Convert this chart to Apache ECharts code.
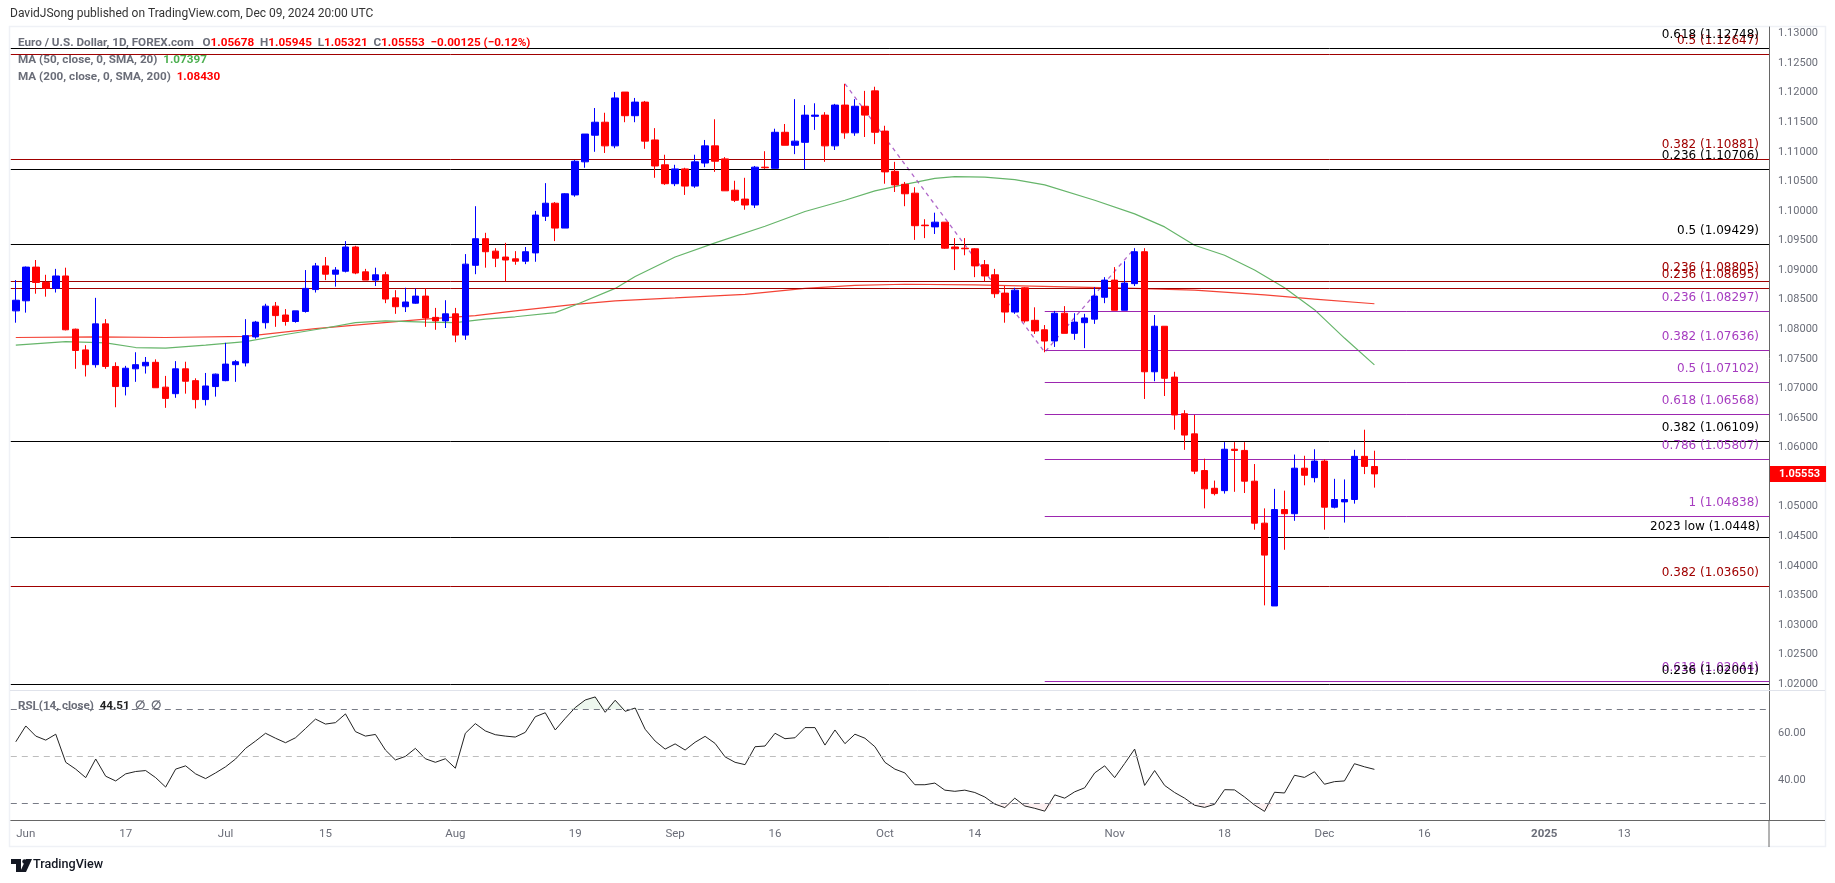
<!DOCTYPE html>
<html lang="en">
<head>
    <meta charset="UTF-8">
    <title>EUR/USD daily</title>
    <script src="https://cdn.jsdelivr.net/npm/echarts@6/dist/echarts.min.js"></script>
    <style>
        html, body { margin: 0; padding: 0; background: #fff; }
    </style>
</head>
<body>
<div id="main" style="width:1835px;height:883px;"></div>
<script type="text/javascript">
    // daily bars, May 31 2024 to Dec 09 2024
    var opens = [
        1.0831,1.0848,1.0905,1.0879,1.0869,1.0890,1.0800,1.0765,1.0740,1.0809,
        1.0737,1.0703,1.0733,1.0738,1.0744,1.0702,1.0691,1.0733,1.0713,1.0681,
        1.0703,1.0713,1.0740,1.0743,1.0787,1.0811,1.0839,1.0824,1.0813,1.0830,
        1.0867,1.0907,1.0893,1.0898,1.0939,1.0897,1.0883,1.0892,1.0853,1.0838,
        1.0844,1.0856,1.0820,1.0814,1.0826,1.0790,1.0908,1.0953,1.0932,1.0922,
        1.0919,1.0915,1.0929,1.0991,1.1013,1.0971,1.1027,1.1083,1.1128,1.1150,
        1.1110,1.1201,1.1161,1.1184,1.1120,1.1078,1.1046,1.1071,1.1042,1.1081,
        1.1110,1.1088,1.1035,1.1020,1.1010,1.1074,1.1072,1.1133,1.1111,1.1116,
        1.1160,1.1162,1.1110,1.1179,1.1132,1.1177,1.1203,1.1135,1.1067,1.1045,
        1.1030,1.0976,1.0973,1.0981,1.0939,1.0937,1.0936,1.0909,1.0892,1.0861,
        1.0829,1.0870,1.0815,1.0799,1.0780,1.0827,1.0793,1.0811,1.0817,1.0854,
        1.0883,1.0832,1.0877,1.0931,1.0728,1.0805,1.0719,1.0657,1.0623,1.0561,
        1.0531,1.0527,1.0597,1.0595,1.0543,1.0472,1.0332,1.0495,1.0488,1.0565,
        1.0549,1.0577,1.0499,1.0508,1.0512,1.0585,1.05678
    ];
    var closes = [
        1.0849,1.0905,1.0879,1.0869,1.0890,1.0799,1.0764,1.0740,1.0809,1.0737,
        1.0703,1.0734,1.0740,1.0744,1.0701,1.0683,1.0733,1.0712,1.0681,1.0704,
        1.0724,1.0741,1.0745,1.0789,1.0812,1.0839,1.0823,1.0813,1.0831,1.0869,
        1.0907,1.0893,1.0900,1.0939,1.0895,1.0883,1.0892,1.0851,1.0838,1.0846,
        1.0856,1.0819,1.0814,1.0826,1.0790,1.0910,1.0953,1.0931,1.0920,1.0917,
        1.0915,1.0931,1.0993,1.1013,1.0971,1.1029,1.1084,1.1130,1.1150,1.1110,
        1.1191,1.1161,1.1184,1.1118,1.1076,1.1046,1.1071,1.1042,1.1083,1.1110,
        1.1084,1.1034,1.1018,1.1010,1.1074,1.1073,1.1133,1.1111,1.1118,1.1162,
        1.1162,1.1110,1.1179,1.1132,1.1177,1.1162,1.1133,1.1066,1.1044,1.1029,
        1.0975,1.0975,1.0981,1.0937,1.0936,1.0936,1.0907,1.0890,1.0860,1.0829,
        1.0866,1.0814,1.0797,1.0780,1.0827,1.0793,1.0812,1.0819,1.0856,1.0883,
        1.0832,1.0878,1.0931,1.0728,1.0805,1.0717,1.0655,1.0621,1.0560,1.0530,
        1.0522,1.0597,1.0595,1.0543,1.0472,1.0418,1.0495,1.0488,1.0565,1.0553,
        1.0577,1.0499,1.0512,1.0512,1.0585,1.0568,1.05553
    ];
    var highs = [
        1.0883,1.0906,1.0917,1.0892,1.0902,1.0904,1.0801,1.0773,1.0853,1.0817,
        1.0744,1.0738,1.0761,1.0753,1.0749,1.0721,1.0746,1.0745,1.0717,1.0726,
        1.0725,1.0777,1.0748,1.0817,1.0814,1.0843,1.0846,1.0834,1.0831,1.0900,
        1.0912,1.0922,1.0905,1.0949,1.0941,1.0902,1.0904,1.0897,1.0866,1.0870,
        1.0869,1.0869,1.0836,1.0849,1.0836,1.0927,1.1008,1.0963,1.0937,1.0946,
        1.0932,1.0939,1.1000,1.1047,1.1015,1.1030,1.1086,1.1130,1.1174,1.1166,
        1.1201,1.1201,1.1191,1.1186,1.1140,1.1095,1.1078,1.1073,1.1095,1.1120,
        1.1155,1.1091,1.1051,1.1056,1.1076,1.1101,1.1139,1.1147,1.1189,1.1179,
        1.1182,1.1167,1.1181,1.1215,1.1189,1.1203,1.1210,1.1144,1.1083,1.1049,
        1.1040,1.0986,1.0997,1.0981,1.0954,1.0954,1.0937,1.0917,1.0902,1.0873,
        1.0870,1.0871,1.0837,1.0807,1.0831,1.0839,1.0827,1.0826,1.0871,1.0888,
        1.0905,1.0915,1.0937,1.0937,1.0824,1.0805,1.0728,1.0663,1.0655,1.0581,
        1.0544,1.0609,1.0609,1.0609,1.0572,1.0497,1.0530,1.0527,1.0588,1.0586,
        1.0597,1.0580,1.0547,1.0546,1.0596,1.0630,1.05945
    ];
    var lows = [
        1.0811,1.0828,1.0860,1.0855,1.0862,1.0798,1.0733,1.0720,1.0735,1.0733,
        1.0668,1.0688,1.0711,1.0725,1.0701,1.0667,1.0684,1.0691,1.0666,1.0671,
        1.0686,1.0712,1.0711,1.0737,1.0784,1.0801,1.0804,1.0806,1.0811,1.0828,
        1.0862,1.0883,1.0872,1.0896,1.0893,1.0883,1.0873,1.0844,1.0826,1.0829,
        1.0843,1.0804,1.0799,1.0802,1.0778,1.0782,1.0893,1.0904,1.0905,1.0881,
        1.0909,1.0910,1.0914,1.0983,1.0949,1.0971,1.1024,1.1073,1.1100,1.1098,
        1.1106,1.1150,1.1150,1.1105,1.1056,1.1044,1.1042,1.1027,1.1039,1.1074,
        1.1066,1.1034,1.1015,1.1002,1.1005,1.1071,1.1072,1.1111,1.1096,1.1070,
        1.1137,1.1083,1.1103,1.1122,1.1127,1.1125,1.1113,1.1046,1.1032,1.1008,
        1.0951,1.0954,1.0961,1.0936,1.0900,1.0925,1.0888,1.0881,1.0853,1.0811,
        1.0826,1.0811,1.0792,1.0761,1.0770,1.0793,1.0782,1.0768,1.0809,1.0844,
        1.0832,1.0832,1.0873,1.0682,1.0712,1.0687,1.0630,1.0596,1.0555,1.0497,
        1.0519,1.0522,1.0525,1.0523,1.0461,1.0333,1.0332,1.0427,1.0476,1.0536,
        1.0541,1.0461,1.0497,1.0473,1.0505,1.0555,1.05321
    ];
    var rsi = [
        56.2,62.9,58.6,56.9,59.4,47.5,44.6,41,48.9,41.6,
        39.6,42.6,43.6,44,41,37,44.6,46,42.6,40.6,
        43,45.6,48.9,53.4,56.5,59.8,57.7,55.8,57.9,61.8,
        65.8,63.7,64.3,68,60.5,58.6,59.3,52.7,48.5,50,
        53.4,49,47.5,49,45,59.8,63.9,60.8,59.2,58.6,
        58.2,60.2,66.8,68.5,61.2,66.1,70.7,73.9,75.2,68.7,
        73.8,69.1,70.5,61.5,56.5,53.1,55.3,52.7,56,58.5,
        55.5,49.8,47.5,46.5,54.1,54.4,59.8,57.5,57.9,62.2,
        62.2,54.8,61.2,55.4,59.4,57.7,54.1,47.5,44.6,43,
        38,38,38.7,35.7,35.2,35.7,34.7,32.8,29.8,28.3,
        32.3,29,28,26.8,33.7,32.3,35,36.7,43,46,
        41,47,53.1,37.7,44,37.7,34.7,32.3,29.3,28.4,
        29.7,35.9,35.8,32.8,29.4,26.7,34.8,34.5,42,41.1,
        43.5,38.2,39.3,39.6,46.9,45.6,44.51
    ];

    // moving averages read at some of the bars (bar number, value)
    var ma50Bars = [0,5,9,12,15,19,23,27,31,34,37,41,44,47,50,54,56,60,62,66,70,75,79,83,86,89,92,94,97,100,103,108,112,115,118,121,124,127,130,133,136];
    var ma50Values = [1.0773,1.0779,1.0777,1.0769,1.0768,1.0773,1.0779,1.0791,1.0802,1.0811,1.0814,1.0812,1.0811,1.0817,1.0821,1.0828,1.0841,1.0869,1.0889,1.0922,1.0946,1.0974,1.0999,1.1018,1.1034,1.1045,1.1055,1.1058,1.1057,1.1053,1.1044,1.1018,1.0995,1.0973,1.0942,1.0925,1.0900,1.0870,1.0833,1.0785,1.07397];
    var ma200Bars = [0,8,15,23,30,36,41,46,50,56,60,66,73,79,84,89,96,104,112,118,125,130,136];
    var ma200Values = [1.0786,1.0787,1.0786,1.0788,1.0801,1.0810,1.0817,1.0823,1.0831,1.0842,1.0848,1.0853,1.0859,1.0869,1.0874,1.0876,1.0875,1.0872,1.0869,1.0866,1.0858,1.0851,1.0843];

    // fib levels
    var blackLabels = ['0.618 (1.12748)','0.236 (1.10706)','0.5 (1.09429)','0.382 (1.06109)','2023 low (1.0448)','0.236 (1.02001)'];
    var blackLevels = [1.12748,1.10706,1.09429,1.06109,1.0448,1.02001];
    var redLabels = ['0.5 (1.12647)','0.382 (1.10881)','0.236 (1.08805)','0.236 (1.08695)','0.382 (1.03650)'];
    var redLevels = [1.12647,1.10881,1.08805,1.08695,1.0365];
    var purpleLabels = ['0.236 (1.08297)','0.382 (1.07636)','0.5 (1.07102)','0.618 (1.06568)','0.786 (1.05807)','1 (1.04838)','0.618 (1.02044)'];
    var purpleLevels = [1.08297,1.07636,1.07102,1.06568,1.05807,1.04838,1.02044];
    var purpleStartBar = 103;

    // dashed swing lines
    var swingBars = [83,103,112];
    var swingPrices = [1.1215,1.0761,1.0937];

    var priceTicks = [1.02,1.025,1.03,1.035,1.04,1.045,1.05,1.055,1.06,1.065,1.07,1.075,1.08,1.085,1.09,1.095,1.10,1.105,1.11,1.115,1.12,1.125,1.13];
    var rsiTicks = [40,60];
    var rsiBands = [70,50,30];
    var tickDays = ['2024-06-03','2024-06-17','2024-07-01','2024-07-15','2024-08-01','2024-08-19','2024-09-02','2024-09-16','2024-10-01','2024-10-14','2024-11-01','2024-11-18','2024-12-02','2024-12-16','2025-01-01','2025-01-13'];
    var tickTexts = ['Jun','17','Jul','15','Aug','19','Sep','16','Oct','14','Nov','18','Dec','16','2025','13'];

    var lastPrice = 1.05553;
    var barCount = 176; // visible slots, the rest is empty space up to the price scale

    var days = [];
    var d = new Date(Date.UTC(2024, 4, 31));
    while (days.length < barCount) {
        if (d.getUTCDay() !== 0 && d.getUTCDay() !== 6) days.push(d.toISOString().slice(0, 10));
        d.setUTCDate(d.getUTCDate() + 1);
    }

    var myChart = echarts.init(document.getElementById('main'));
    var uiFont = 'Roboto';
    var fibFont = 'DejaVu Sans';
    var grey = '#6a6d78';
    var xStart = -0.5, xEnd = barCount - 0.5;

    function levelLines(labels, levels, color, labelColor, startBar) {
        return {
            type: 'line', xAxisIndex: 2, yAxisIndex: 0, data: [], z: 2, silent: true,
            markLine: {
                silent: true, symbol: 'none', animation: false,
                lineStyle: {color: color, width: 1, type: 'solid'},
                label: {show: true, position: 'insideEndTop', distance: [10, 7.5], color: labelColor, fontFamily: fibFont, fontSize: 12},
                data: labels.map(function (text, i) {
                    return [{
                        coord: [startBar, levels[i]],
                        label: {formatter: text, distance: text.indexOf('low') > 0 ? [9, 4.5] : [10, 7.5]}
                    }, {coord: [xEnd, levels[i]]}];
                })
            }
        };
    }

    function pairs(xs, ys) {
        return xs.map(function (x, i) { return [x, ys[i]]; });
    }

    var legendSize = 11.7;
    var option = {
        animation: false,
        backgroundColor: '#fff',
        textStyle: {fontFamily: uiFont},
        title: [
            {left: 10, top: 8, padding: 0, text: 'DavidJSong published on TradingView.com, Dec 09, 2024 20:00 UTC', textStyle: {fontFamily: uiFont, fontSize: 12, fontWeight: 'normal', color: '#333'}},
            {left: 18, top: 37, padding: 0, text: '{g|Euro / U.S. Dollar, 1D, FOREX.com   O}{r|1.05678}{g|  H}{r|1.05945}{g|  L}{r|1.05321}{g|  C}{r|1.05553}{r|  −0.00125 (−0.12%)}',
                textStyle: {rich: {g: {fontFamily: uiFont, fontSize: legendSize, color: grey}, r: {fontFamily: uiFont, fontSize: legendSize, color: '#f00'}}}},
            {left: 18, top: 54, padding: 0, text: '{g|MA (50, close, 0, SMA, 20)}{v|  1.07397}',
                textStyle: {rich: {g: {fontFamily: uiFont, fontSize: legendSize, color: grey}, v: {fontFamily: uiFont, fontSize: legendSize, color: '#4caf50'}}}},
            {left: 18, top: 71, padding: 0, text: '{g|MA (200, close, 0, SMA, 200)}{v|  1.08430}',
                textStyle: {rich: {g: {fontFamily: uiFont, fontSize: legendSize, color: grey}, v: {fontFamily: uiFont, fontSize: legendSize, color: '#f00'}}}},
            {left: 18, top: 700, padding: 0, text: '{g|RSI (14, close)}{v|  44.51}{g|  ∅  ∅}',
                textStyle: {rich: {g: {fontFamily: uiFont, fontSize: 11.6, color: grey}, v: {fontFamily: uiFont, fontSize: 11.6, color: '#222'}}}},
            {left: 33, top: 858, padding: 0, text: 'TradingView', textStyle: {fontFamily: uiFont, fontSize: 12.6, fontWeight: 500, color: '#131722'}}
        ],
        graphic: [
            // outer panel and pane separators
            {type: 'rect', shape: {x: 9.5, y: 26.5, width: 1816, height: 820}, style: {fill: 'none', stroke: '#eff1f6', lineWidth: 1.5}, z: 0},
            {type: 'line', shape: {x1: 10, y1: 690.5, x2: 1825, y2: 690.5}, style: {stroke: '#e0e3eb', lineWidth: 1}, z: 3},
            {type: 'line', shape: {x1: 1769, y1: 820.5, x2: 1825, y2: 820.5}, style: {stroke: '#666', lineWidth: 1}, z: 3},
            {type: 'line', shape: {x1: 1769, y1: 820, x2: 1769, y2: 847}, style: {stroke: '#666', lineWidth: 1}, z: 3},
            // logo
            {type: 'polygon', shape: {points: [[11, 859], [21, 859], [21, 872], [16, 872], [16, 864], [11, 864]]}, style: {fill: '#131722'}, z: 3},
            {type: 'circle', shape: {cx: 24.5, cy: 861.5, r: 2.2}, style: {fill: '#131722'}, z: 3},
            {type: 'polygon', shape: {points: [[26, 859], [32, 859], [26, 872], [20, 872]]}, style: {fill: '#131722'}, z: 3}
        ],
        grid: [
            {left: 10.8, top: 27, width: 1758.2, height: 663},
            {left: 10.8, top: 690.7, width: 1758.2, height: 129.3}
        ],
        xAxis: [
            {type: 'category', gridIndex: 0, data: days, show: false},
            {
                type: 'category', gridIndex: 1, data: days,
                axisLine: {lineStyle: {color: '#666', width: 1}},
                axisTick: {show: false},
                axisLabel: {
                    color: grey, fontFamily: uiFont, fontSize: 11.5, margin: 8,
                    interval: function (index, value) { return tickDays.indexOf(value) >= 0; },
                    formatter: function (value) {
                        var t = tickTexts[tickDays.indexOf(value)];
                        return t === '2025' ? '{y|2025}' : t;
                    },
                    rich: {y: {fontFamily: uiFont, fontSize: 11.5, fontWeight: 'bold', color: grey}}
                },
                splitLine: {show: false}
            },
            {type: 'value', gridIndex: 0, min: xStart, max: xEnd, show: false, splitLine: {show: false}},
            {type: 'value', gridIndex: 1, min: xStart, max: xEnd, show: false, splitLine: {show: false}}
        ],
        yAxis: [
            {
                type: 'value', gridIndex: 0, position: 'right', scale: true, min: 1.01899, max: 1.1311,
                axisLine: {show: true, onZero: false, lineStyle: {color: '#666', width: 1}},
                axisTick: {show: false},
                splitLine: {show: false},
                axisLabel: {
                    customValues: priceTicks, color: grey, fontFamily: uiFont, fontSize: 11, margin: 9,
                    formatter: function (v) { return v.toFixed(5); }
                }
            },
            {
                type: 'value', gridIndex: 1, position: 'right', min: 23.05, max: 77.84,
                axisLine: {show: true, onZero: false, lineStyle: {color: '#666', width: 1}},
                axisTick: {show: false},
                splitLine: {show: false},
                axisLabel: {
                    customValues: rsiTicks, color: grey, fontFamily: uiFont, fontSize: 11, margin: 9,
                    formatter: function (v) { return v.toFixed(2); }
                }
            }
        ],
        series: [
            levelLines(redLabels, redLevels, '#a00000', '#a00000', xStart),
            levelLines(purpleLabels, purpleLevels, '#9c27b0', '#a63cc0', purpleStartBar),
            levelLines(blackLabels, blackLevels, '#000', '#000', xStart),
            {
                name: 'MA 200', type: 'line', xAxisIndex: 2, yAxisIndex: 0, z: 3, silent: true,
                showSymbol: false, smooth: false,
                lineStyle: {color: '#f44336', width: 1.2},
                data: pairs(ma200Bars, ma200Values)
            },
            {
                name: 'MA 50', type: 'line', xAxisIndex: 2, yAxisIndex: 0, z: 3, silent: true,
                showSymbol: false, smooth: false,
                lineStyle: {color: '#66b56a', width: 1.2},
                data: pairs(ma50Bars, ma50Values)
            },
            {
                name: 'swing', type: 'line', xAxisIndex: 2, yAxisIndex: 0, z: 3, silent: true,
                showSymbol: false,
                lineStyle: {color: '#a24cc0', width: 1.3, type: [4, 4], opacity: 0.85},
                data: pairs(swingBars, swingPrices)
            },
            {
                name: 'EURUSD', type: 'candlestick', xAxisIndex: 0, yAxisIndex: 0, z: 5, silent: true,
                barWidth: 7,
                itemStyle: {color: '#0000ff', color0: '#ff0000', borderColor: '#0000ff', borderColor0: '#ff0000', borderWidth: 1},
                data: opens.map(function (o, i) { return [o, closes[i], lows[i], highs[i]]; })
            },
            {
                // last price tag on the scale
                type: 'line', xAxisIndex: 2, yAxisIndex: 0, data: [], z: 6, silent: true,
                markLine: {
                    silent: true, symbol: 'none', animation: false,
                    lineStyle: {width: 1, color: 'rgba(0,0,0,0)'},
                    label: {
                        show: true, position: 'end', distance: 1, color: '#fff', backgroundColor: '#ff0000',
                        fontFamily: uiFont, fontSize: 11, fontWeight: 'bold', padding: [3, 6, 2, 9],
                        formatter: lastPrice.toFixed(5)
                    },
                    data: [[{coord: [xEnd - 1, lastPrice]}, {coord: [xEnd, lastPrice]}]]
                }
            },
            {
                name: 'RSI over', type: 'line', xAxisIndex: 1, yAxisIndex: 1, silent: true, showSymbol: false,
                lineStyle: {width: 0},
                areaStyle: {origin: 70, color: 'rgba(76,175,80,0.14)'},
                data: rsi.map(function (v) { return Math.max(v, 70); })
            },
            {
                name: 'RSI under', type: 'line', xAxisIndex: 1, yAxisIndex: 1, silent: true, showSymbol: false,
                lineStyle: {width: 0},
                areaStyle: {origin: 30, color: 'rgba(242,54,69,0.10)'},
                data: rsi.map(function (v) { return Math.min(v, 30); })
            },
            {
                type: 'line', xAxisIndex: 3, yAxisIndex: 1, data: [], silent: true, z: 2,
                markLine: {
                    silent: true, symbol: 'none', animation: false, label: {show: false},
                    data: rsiBands.map(function (v) {
                        return [{
                            coord: [xStart, v],
                            lineStyle: {color: v === 50 ? '#bdbdbd' : '#787b86', width: 1, type: [6, 5]}
                        }, {coord: [xEnd, v]}];
                    })
                }
            },
            {
                name: 'RSI', type: 'line', xAxisIndex: 1, yAxisIndex: 1, silent: true, showSymbol: false, z: 4,
                lineStyle: {color: '#222', width: 1},
                data: rsi
            }
        ]
    };
    myChart.setOption(option);
</script>
</body>
</html>
